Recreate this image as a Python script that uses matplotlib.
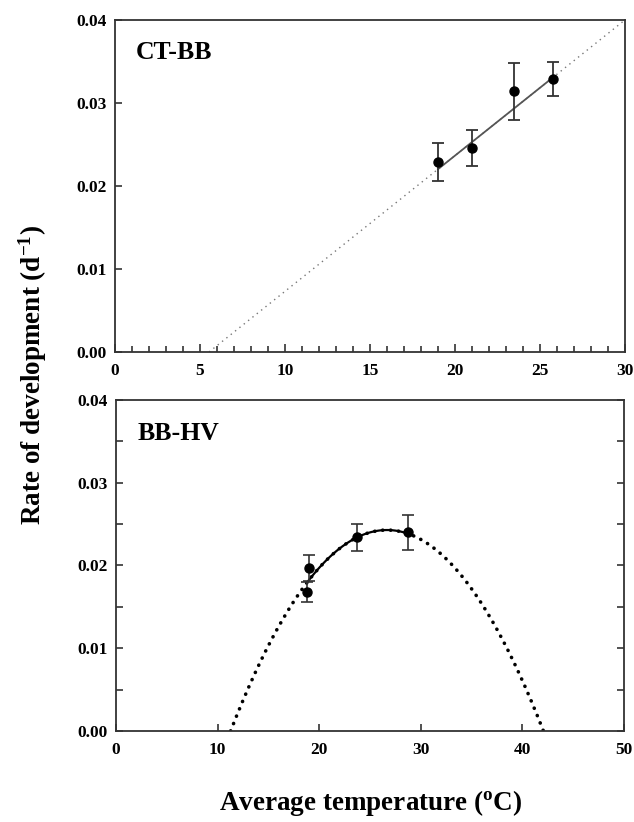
import numpy as np
import matplotlib
matplotlib.use("Agg")
import matplotlib.pyplot as plt
from matplotlib.ticker import MultipleLocator, FormatStrFormatter

plt.rcParams['font.family'] = ['Liberation Serif', 'DejaVu Serif']
plt.rcParams['font.weight'] = 'bold'
plt.rcParams['mathtext.fontset'] = 'custom'
plt.rcParams['mathtext.rm'] = 'Liberation Serif:bold'
plt.rcParams['mathtext.bf'] = 'Liberation Serif:bold'
plt.rcParams['mathtext.it'] = 'Liberation Serif:bold'

# ---- Data: CT-BB panel ----
ct_temp = [19.0, 21.0, 23.5, 25.75]
ct_rate = [0.0229, 0.0246, 0.0314, 0.0329]
ct_err = [0.0023, 0.0022, 0.0034, 0.0020]
ct_fit_t0 = 5.53        # x-intercept of linear fit
ct_fit_slope = 0.001635  # slope of linear fit
ct_solid_range = [19.0, 25.75]
ct_dotted_range = [5.53, 30.0]

# ---- Data: BB-HV panel ----
hv_temp = [19.0, 18.8, 23.7, 28.75]
hv_rate = [0.0197, 0.0168, 0.0234, 0.0240]
hv_err = [0.0016, 0.0012, 0.0016, 0.0021]
hv_fit_a = 1.024e-4     # quadratic fit: a*(T - T1)*(T2 - T)
hv_fit_t1 = 11.28
hv_fit_t2 = 42.08
hv_solid_range = [18.9, 28.75]

panel_labels = ["CT-BB", "BB-HV"]
y_label = "Rate of development (d$^{-1}$)"
x_label = "Average temperature ($^{\\rm o}$C)"

fig = plt.figure(figsize=(6.34, 8.22), dpi=100)
ax1 = fig.add_axes([0.1814, 0.5718, 0.8044, 0.4039])
ax2 = fig.add_axes([0.1830, 0.1107, 0.8010, 0.4027])

spine_col = '#333333'
for ax in (ax1, ax2):
    for s in ax.spines.values():
        s.set_color(spine_col)
        s.set_linewidth(1.3)

# ---- Top panel ----
xd = np.linspace(ct_dotted_range[0], ct_dotted_range[1], 200)
ax1.plot(xd, ct_fit_slope * (xd - ct_fit_t0), color='#777777', lw=1.0,
         linestyle=(0, (1, 3)))
xs = np.linspace(ct_solid_range[0], ct_solid_range[1], 50)
ax1.plot(xs, ct_fit_slope * (xs - ct_fit_t0), color='#555555', lw=1.3)
ax1.errorbar(ct_temp, ct_rate, yerr=ct_err, fmt='o', color='black',
             ecolor='#333333', elinewidth=1.3, capsize=4.5, capthick=1.3,
             markersize=6.5, zorder=5)
ax1.set_xlim(0, 30)
ax1.set_ylim(0, 0.04)
ax1.xaxis.set_major_locator(MultipleLocator(5))
ax1.xaxis.set_minor_locator(MultipleLocator(1))
ax1.yaxis.set_major_locator(MultipleLocator(0.01))
ax1.yaxis.set_major_formatter(FormatStrFormatter('%.2f'))
ax1.tick_params(axis='both', which='both', direction='in', colors=spine_col,
                labelcolor='black', labelsize=12.5, width=1.2)
ax1.tick_params(axis='x', which='major', length=6, pad=8)
ax1.tick_params(axis='x', which='minor', length=4)
ax1.tick_params(axis='y', which='major', length=5, pad=6)
ax1.text(0.041, 0.883, panel_labels[0], transform=ax1.transAxes,
         fontsize=18.5, fontweight='bold', ha='left', va='baseline')

# ---- Bottom panel ----
xq = np.linspace(hv_fit_t1, hv_fit_t2, 400)
ax2.plot(xq, hv_fit_a * (xq - hv_fit_t1) * (hv_fit_t2 - xq), color='black',
         lw=2.6, linestyle=(0, (0.05, 2.15)), dash_capstyle='round')
xs2 = np.linspace(hv_solid_range[0], hv_solid_range[1], 100)
ax2.plot(xs2, hv_fit_a * (xs2 - hv_fit_t1) * (hv_fit_t2 - xs2), color='black',
         lw=1.6)
ax2.errorbar(hv_temp, hv_rate, yerr=hv_err, fmt='o', color='black',
             ecolor='#333333', elinewidth=1.2, capsize=4.5, capthick=1.2,
             markersize=6.5, zorder=5)
ax2.set_xlim(0, 50)
ax2.set_ylim(0, 0.04)
ax2.xaxis.set_major_locator(MultipleLocator(10))
ax2.yaxis.set_major_locator(MultipleLocator(0.01))
ax2.yaxis.set_minor_locator(MultipleLocator(0.005))
ax2.yaxis.set_major_formatter(FormatStrFormatter('%.2f'))
ax2.tick_params(axis='both', which='both', direction='in', colors=spine_col,
                labelcolor='black', labelsize=12.5, width=1.2)
ax2.tick_params(axis='y', which='both', right=True, length=5, pad=6)
ax2.tick_params(axis='x', which='major', length=5, pad=8)
ax2.text(0.043, 0.88, panel_labels[1], transform=ax2.transAxes,
         fontsize=18.5, fontweight='bold', ha='left', va='baseline')

for ax in (ax1, ax2):
    for lab in ax.get_xticklabels() + ax.get_yticklabels():
        lab.set_fontweight('bold')

fig.text(0.052, 0.544, y_label, rotation=90, fontsize=19.5,
         fontweight='bold', ha='center', va='center')
fig.text(0.584, 0.023, x_label, fontsize=19.5, fontweight='bold',
         ha='center', va='center')

fig.savefig('out.png', dpi=100)
